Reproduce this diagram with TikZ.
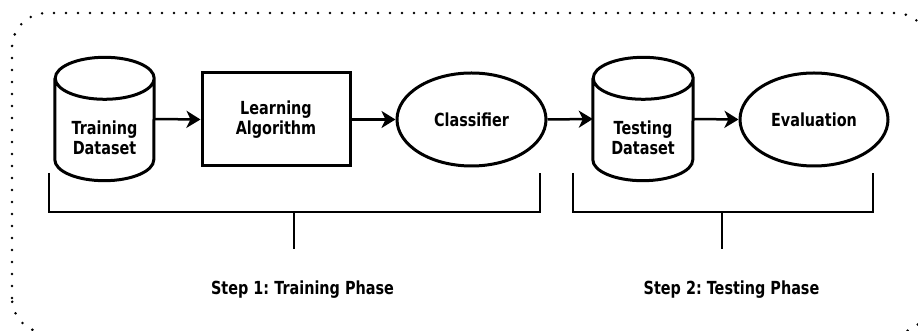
\documentclass[tikz,border=0pt]{standalone}
\usepackage{fontspec}
\setmainfont{DejaVu Sans}[FakeStretch=0.8]
\usetikzlibrary{arrows.meta,shapes.geometric}
\frenchspacing
\begin{document}
\begin{tikzpicture}[x=1pt,y=1pt,
  lbl/.style={font=\bfseries\fontsize{18}{20}\selectfont, align=center, text=black},
  box/.style={draw, line width=3pt, minimum width=148pt, minimum height=93pt, inner sep=0pt, lbl},
  oval/.style={draw, ellipse, line width=3pt, minimum width=149pt, minimum height=93pt, inner sep=0pt, lbl},
  cylarea/.style={minimum width=99pt, minimum height=123pt, inner sep=0pt},
  cylline/.style={line width=3pt},
  arr/.style={line width=2.5pt, -{Stealth[length=14pt,width=17pt,inset=4pt]}},
  brace/.style={line width=2.6pt},
  frame/.style={line width=2.8pt, dash pattern=on 0pt off 12pt, line cap=round, rounded corners=35pt}
]
\useasboundingbox (0,0) rectangle (918,331);
\begin{scope}
  \clip (0,0) rectangle (918,331);
  \draw[frame] (12,-2) rectangle (930,318);
\end{scope}

% Training dataset cylinder
\node[cylarea] (tdb) at (104.5,212) {};
\draw[cylline] ([yshift=-21pt]tdb.north west) -- ([yshift=21pt]tdb.south west)
  arc[start angle=180,end angle=360,x radius=49.5,y radius=21]
  -- ([yshift=-21pt]tdb.north east)
  arc[start angle=0,end angle=360,x radius=49.5,y radius=21];
\node[lbl] (tdt) at (104.5,193.5) {Training\\Dataset};

% Learning algorithm
\node[box] (la) at (276,211.5) {Learning\\Algorithm};

% Classifier
\node[oval] (cl) at (471.5,211.5) {Classifier};

% Testing dataset cylinder
\node[cylarea, minimum width=100pt] (tsb) at (643,212) {};
\draw[cylline] ([yshift=-21pt]tsb.north west) -- ([yshift=21pt]tsb.south west)
  arc[start angle=180,end angle=360,x radius=50,y radius=21]
  -- ([yshift=-21pt]tsb.north east)
  arc[start angle=0,end angle=360,x radius=50,y radius=21];
\node[lbl] (tst) at (643,193.5) {Testing\\Dataset};

% Evaluation
\node[oval, minimum width=148pt] (ev) at (814,211.5) {Evaluation};

% Arrows
\draw[arr] (tdb.east) -- (la.west);
\draw[arr] (la.east) -- (cl.west);
\draw[arr] (cl.east) -- (tsb.west);
\draw[arr] (tsb.east) -- (ev.west);

% Brackets
\coordinate (b1l) at (49,158);
\coordinate (b1r) at (540,158);
\coordinate (b1s) at (294,119);
\coordinate (b1e) at (294,82);
\draw[brace] (b1l) -- (49,119) -- (540,119) -- (b1r);
\draw[brace] (b1s) -- (b1e);
\coordinate (b2l) at (573,158);
\coordinate (b2r) at (873,158);
\coordinate (b2s) at (722,119);
\coordinate (b2e) at (722,82);
\draw[brace] (b2l) -- (573,119) -- (873,119) -- (b2r);
\draw[brace] (b2s) -- (b2e);

% Labels
\node[lbl, anchor=base] (s1) at (302.5,36) {Step 1: Training Phase};
\node[lbl, anchor=base] (s2) at (731.5,36) {Step 2: Testing Phase};
\end{tikzpicture}
\end{document}
